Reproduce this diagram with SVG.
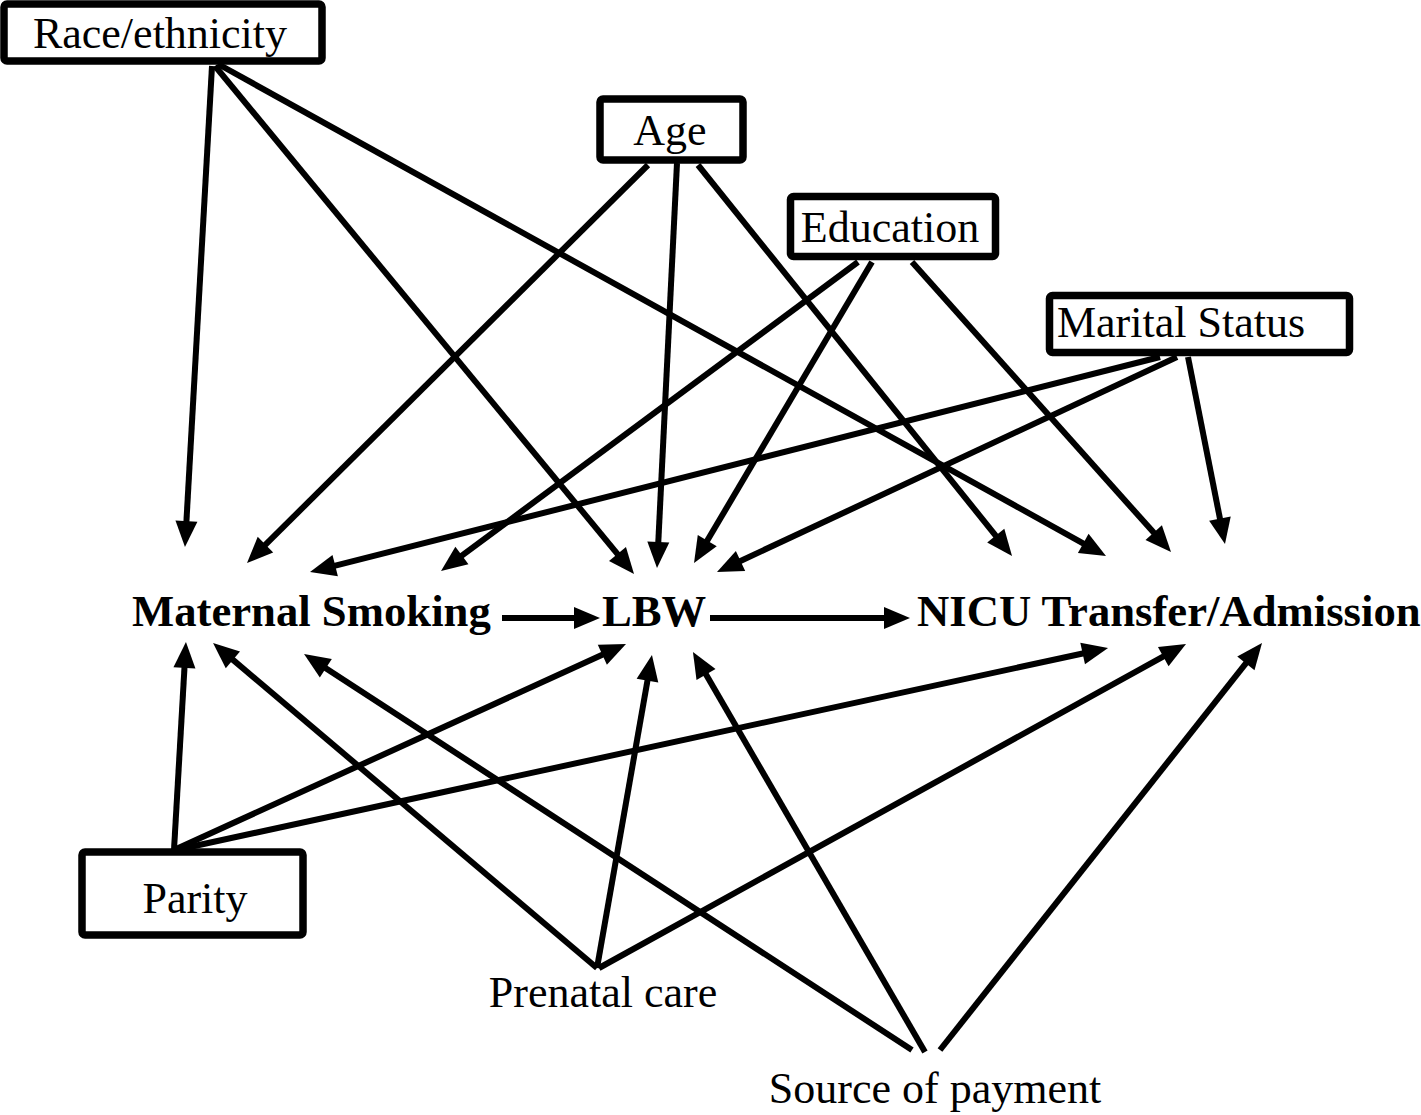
<svg xmlns="http://www.w3.org/2000/svg" width="1421" height="1115" viewBox="0 0 1421 1115">
<style>
.box{fill:#fff;stroke:#000;stroke-width:7.5}
.t{font-family:"Liberation Serif","Times New Roman",serif;font-size:44px;fill:#000}
.b{font-weight:bold;font-size:44.7px}
.c{text-anchor:middle}
.e{stroke:#000;stroke-width:6;fill:none;marker-end:url(#ah)}
</style>
<defs>
<marker id="ah" markerUnits="userSpaceOnUse" markerWidth="26" markerHeight="22" refX="6" refY="11" orient="auto" overflow="visible">
<path d="M0,0 L26,11 L0,22 z" fill="#000"/>
</marker>
</defs>
<rect width="1421" height="1115" fill="#fff"/>
<g id="connectors">
<line class="e" x1="212" y1="66" x2="186.1" y2="527"/>
<line class="e" x1="215" y1="66" x2="621.3" y2="558.6"/>
<line class="e" x1="218" y1="64" x2="1088.5" y2="546.3"/>
<line class="e" x1="648" y1="165" x2="261.2" y2="548.9"/>
<line class="e" x1="677" y1="163" x2="658" y2="548"/>
<line class="e" x1="698" y1="165" x2="999.5" y2="540.4"/>
<line class="e" x1="858" y1="262" x2="457.1" y2="559.1"/>
<line class="e" x1="872" y1="262" x2="704.2" y2="545.8"/>
<line class="e" x1="912" y1="262" x2="1157.7" y2="537.1"/>
<line class="e" x1="1160" y1="357" x2="329.4" y2="567.1"/>
<line class="e" x1="1177" y1="357" x2="735.1" y2="563.5"/>
<line class="e" x1="1188" y1="357" x2="1221.1" y2="524.4"/>
<line class="e" x1="502" y1="618" x2="580" y2="618"/>
<line class="e" x1="710" y1="618" x2="890" y2="618"/>
<line class="e" x1="174" y1="850" x2="184.8" y2="662"/>
<line class="e" x1="174" y1="850" x2="607.8" y2="652.3"/>
<line class="e" x1="176" y1="850" x2="1088.5" y2="652.2"/>
<line class="e" x1="597" y1="968" x2="228.3" y2="655.9"/>
<line class="e" x1="597" y1="968" x2="648.5" y2="674.7"/>
<line class="e" x1="599" y1="968" x2="1168.5" y2="653.7"/>
<line class="e" x1="912" y1="1050" x2="320.8" y2="664.9"/>
<line class="e" x1="925" y1="1052" x2="703" y2="669.3"/>
<line class="e" x1="940" y1="1050" x2="1249.6" y2="658.7"/>
</g>
<g id="race">
<rect class="box" x="4" y="4" width="318" height="57" rx="3"/>
<text class="t c" x="160" y="48">Race/ethnicity</text>
</g>
<g id="age">
<rect class="box" x="600" y="99" width="143" height="61" rx="3"/>
<text class="t c" x="670" y="145">Age</text>
</g>
<g id="education">
<rect class="box" x="790.5" y="196.5" width="205" height="60" rx="3"/>
<text class="t c" x="890" y="242">Education</text>
</g>
<g id="marital">
<rect class="box" x="1049.5" y="295.5" width="300" height="57" rx="3"/>
<text class="t c" x="1181" y="337">Marital Status</text>
</g>
<g id="parity">
<rect class="box" x="82" y="852" width="221" height="83" rx="3"/>
<text class="t c" x="195" y="913">Parity</text>
</g>
<g id="smoking"><text class="t b" x="132" y="626">Maternal Smoking</text></g>
<g id="lbw"><text class="t b" x="602" y="626">LBW</text></g>
<g id="nicu"><text class="t b" x="917" y="626">NICU Transfer/Admission</text></g>
<g id="prenatal"><text class="t c" x="603" y="1007">Prenatal care</text></g>
<g id="payment"><text class="t c" x="935" y="1103">Source of payment</text></g>
</svg>
